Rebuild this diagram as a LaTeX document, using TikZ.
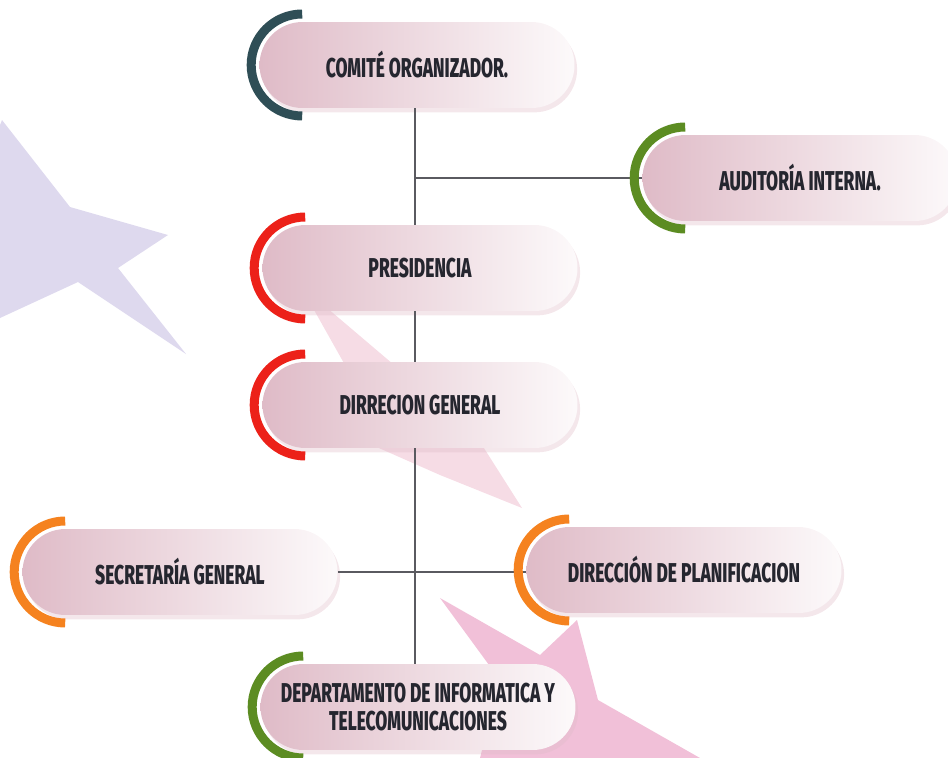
\documentclass[tikz,border=0pt]{standalone}
\usepackage{fontspec}
\usepackage{tikz}
\usetikzlibrary{positioning, calc, shadows}
\newfontfamily\orgfont[FakeStretch=0.64]{Fira Sans ExtraBold}
\definecolor{orgteal}{HTML}{2F4E56}
\definecolor{orggreen}{HTML}{5C8C22}
\definecolor{orgred}{HTML}{EC2119}
\definecolor{orgorange}{HTML}{F5821F}
\definecolor{orgpink}{HTML}{DFBBC7}
\definecolor{orgtext}{HTML}{25262F}
\definecolor{orgline}{HTML}{5A5A60}
\definecolor{starlilac}{HTML}{DED9EE}
\definecolor{starpink}{HTML}{F6DCE5}
\definecolor{starrose}{HTML}{F1C0D8}
\newcommand{\orgarc}[2]{\draw[#2, line width=0.18cm] ($(#1.west)+(43,-51)$) arc[start angle=90, end angle=270, radius=1.02cm];}

\begin{document}
\begin{tikzpicture}[x=0.02cm, y=-0.02cm,
    pill/.style={rounded corners=0.86cm, minimum width=6.3cm, minimum height=1.72cm,
        left color=orgpink, right color=orgpink!8, text=orgtext, align=center,
        font=\orgfont\fontsize{15.5}{15.8}\selectfont,
        drop shadow={shadow xshift=1.5pt, shadow yshift=-2.5pt, opacity=0.35, fill=orgpink}},
    link/.style={draw=orgline, line width=0.7pt},
]
    \useasboundingbox (0,0) rectangle (948,758);

    % Background stars
    \fill[starlilac] (2,120) -- (70,207) -- (168,235) -- (118,268) -- (186,354)
        -- (78,282) -- (0,318) -- (0,125) -- cycle;
    \fill[starpink] (300,285) -- (400,370) -- (482,445) -- (522,508) -- (440,475)
        -- (372,445) -- (345,365) -- cycle;
    \fill[starrose] (440,598) -- (540,655) -- (577,620) -- (598,700) -- (700,758)
        -- (480,758) -- (500,680) -- cycle;

    % Boxes
    \node[pill] (comite) at (417,65) {COMITÉ ORGANIZADOR.};
    \node[pill] (auditoria) at (800,178) {AUDITORÍA INTERNA.};
    \node[pill] (presidencia) at (420,268) {PRESIDENCIA};
    \node[pill] (direccion) at (420,405) {DIRRECION GENERAL};
    \node[pill] (secretaria) at (180,572) {SECRETARÍA GENERAL};
    \node[pill] (planificacion) at (684,570) {DIRECCIÓN DE PLANIFICACION};
    \node[pill] (departamento) at (418,707) {DEPARTAMENTO DE INFORMATICA Y\\TELECOMUNICACIONES};

    % Connectors
    \coordinate (trunk) at (415,0);
    \draw[link] (comite.south -| trunk) -- (presidencia.north -| trunk);
    \draw[link] (trunk |- auditoria.west) -- (auditoria.west);
    \draw[link] (presidencia.south -| trunk) -- (direccion.north -| trunk);
    \draw[link] (direccion.south -| trunk) -- (departamento.north -| trunk);
    \draw[link] (secretaria.east) -- (secretaria.east -| planificacion.west);

    % Coloured arcs
    \orgarc{comite}{orgteal}
    \orgarc{auditoria}{orggreen}
    \orgarc{presidencia}{orgred}
    \orgarc{direccion}{orgred}
    \orgarc{secretaria}{orgorange}
    \orgarc{planificacion}{orgorange}
    \orgarc{departamento}{orggreen}
\end{tikzpicture}
\end{document}
